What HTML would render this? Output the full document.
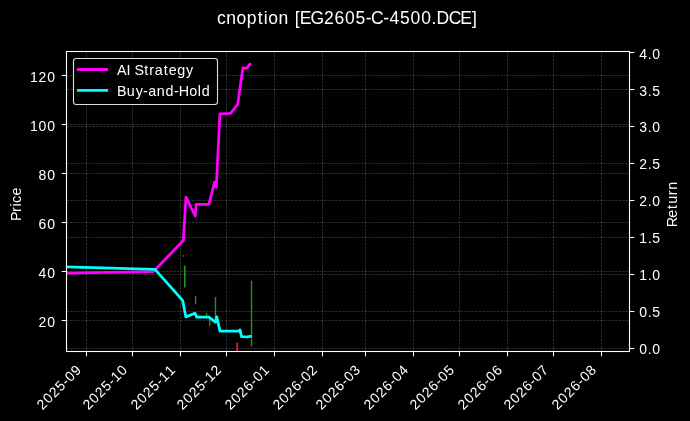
<!DOCTYPE html><html><head><meta charset="utf-8"><style>html,body{margin:0;padding:0;background:#000;width:690px;height:421px;overflow:hidden}svg{display:block;will-change:transform}text{font-family:"Liberation Sans",sans-serif;fill:#fff}</style></head><body>
<svg width="690" height="421" viewBox="0 0 690 421">
<rect width="690" height="421" fill="#000"/>
<text x="216.95 226.25 236.55 246.85 257.78 263.80 268.24 278.54 288.84 294.70 299.74 310.40 324.01 334.53 345.05 355.57 365.77 371.12 383.28 389.58 400.10 410.62 421.14 431.46 436.57 448.71 460.19 472.05" y="23.80" font-size="17.5">cnoption [EG2605-C-4500.DCE]</text>
<defs><clipPath id="ax"><rect x="66.50" y="51.50" width="563.00" height="300.00"/></clipPath></defs>
<g stroke="#fff" stroke-opacity="0.25" stroke-width="0.69" stroke-dasharray="2.57 1.11"><line x1="86.5" y1="51.5" x2="86.5" y2="351.5"/><line x1="132.5" y1="51.5" x2="132.5" y2="351.5"/><line x1="180.5" y1="51.5" x2="180.5" y2="351.5"/><line x1="226.5" y1="51.5" x2="226.5" y2="351.5"/><line x1="274.5" y1="51.5" x2="274.5" y2="351.5"/><line x1="322.5" y1="51.5" x2="322.5" y2="351.5"/><line x1="365.5" y1="51.5" x2="365.5" y2="351.5"/><line x1="413.5" y1="51.5" x2="413.5" y2="351.5"/><line x1="459.5" y1="51.5" x2="459.5" y2="351.5"/><line x1="507.5" y1="51.5" x2="507.5" y2="351.5"/><line x1="553.5" y1="51.5" x2="553.5" y2="351.5"/><line x1="601.5" y1="51.5" x2="601.5" y2="351.5"/><line x1="66.5" y1="320.5" x2="629.5" y2="320.5"/><line x1="66.5" y1="271.5" x2="629.5" y2="271.5"/><line x1="66.5" y1="222.5" x2="629.5" y2="222.5"/><line x1="66.5" y1="173.5" x2="629.5" y2="173.5"/><line x1="66.5" y1="124.5" x2="629.5" y2="124.5"/><line x1="66.5" y1="75.5" x2="629.5" y2="75.5"/><line x1="66.5" y1="348.5" x2="629.5" y2="348.5"/><line x1="66.5" y1="311.5" x2="629.5" y2="311.5"/><line x1="66.5" y1="274.5" x2="629.5" y2="274.5"/><line x1="66.5" y1="237.5" x2="629.5" y2="237.5"/><line x1="66.5" y1="200.5" x2="629.5" y2="200.5"/><line x1="66.5" y1="163.5" x2="629.5" y2="163.5"/><line x1="66.5" y1="126.5" x2="629.5" y2="126.5"/><line x1="66.5" y1="89.5" x2="629.5" y2="89.5"/></g>
<rect x="182.80" y="255" width="1.0" height="2.00" fill="#2a7a2a"/>
<rect x="183.95" y="265.7" width="1.7" height="21.80" fill="#1f961f"/>
<rect x="194.90" y="296.0" width="1.4" height="7.80" fill="#1f961f"/>
<rect x="205.80" y="312.9" width="1.4" height="3.60" fill="#1f961f"/>
<rect x="209.00" y="317" width="1.4" height="8.80" fill="#1f961f"/>
<rect x="214.80" y="297.0" width="1.4" height="21.00" fill="#1f961f"/>
<rect x="236.25" y="342.6" width="1.9" height="8.40" fill="#d81830"/>
<rect x="250.80" y="280.7" width="1.4" height="65.60" fill="#1f961f"/>
<g clip-path="url(#ax)" fill="none" stroke-width="2.78" stroke-linejoin="round" stroke-linecap="butt"><polyline points="40.00,273.60 153.40,271.60 183.30,240.50 186.00,197.20 195.20,216.00 196.20,204.30 208.90,204.30 214.60,182.00 216.30,187.30 219.90,113.80 230.50,113.30 237.70,104.30 242.90,67.80 247.00,68.10 249.20,64.80 251.30,63.80" stroke="#ff00ff"/>
<polyline points="40.00,266.30 155.00,269.30 182.60,300.30 185.90,316.90 195.00,313.20 196.70,317.10 208.90,317.10 215.40,322.10 216.70,316.80 220.00,331.10 238.60,331.10 240.00,329.90 241.50,336.70 247.60,336.90 251.70,336.00" stroke="#00ffff"/></g>
<rect x="66.5" y="51.5" width="563.00" height="300.00" fill="none" stroke="#fff" stroke-width="1.1"/>
<g stroke="#fff" stroke-width="1.1"><line x1="86.5" y1="351.5" x2="86.5" y2="356.36"/><line x1="132.5" y1="351.5" x2="132.5" y2="356.36"/><line x1="180.5" y1="351.5" x2="180.5" y2="356.36"/><line x1="226.5" y1="351.5" x2="226.5" y2="356.36"/><line x1="274.5" y1="351.5" x2="274.5" y2="356.36"/><line x1="322.5" y1="351.5" x2="322.5" y2="356.36"/><line x1="365.5" y1="351.5" x2="365.5" y2="356.36"/><line x1="413.5" y1="351.5" x2="413.5" y2="356.36"/><line x1="459.5" y1="351.5" x2="459.5" y2="356.36"/><line x1="507.5" y1="351.5" x2="507.5" y2="356.36"/><line x1="553.5" y1="351.5" x2="553.5" y2="356.36"/><line x1="601.5" y1="351.5" x2="601.5" y2="356.36"/><line x1="61.64" y1="320.5" x2="66.5" y2="320.5"/><line x1="61.64" y1="271.5" x2="66.5" y2="271.5"/><line x1="61.64" y1="222.5" x2="66.5" y2="222.5"/><line x1="61.64" y1="173.5" x2="66.5" y2="173.5"/><line x1="61.64" y1="124.5" x2="66.5" y2="124.5"/><line x1="61.64" y1="75.5" x2="66.5" y2="75.5"/><line x1="629.5" y1="348.5" x2="634.36" y2="348.5"/><line x1="629.5" y1="311.5" x2="634.36" y2="311.5"/><line x1="629.5" y1="274.5" x2="634.36" y2="274.5"/><line x1="629.5" y1="237.5" x2="634.36" y2="237.5"/><line x1="629.5" y1="200.5" x2="634.36" y2="200.5"/><line x1="629.5" y1="163.5" x2="634.36" y2="163.5"/><line x1="629.5" y1="126.5" x2="634.36" y2="126.5"/><line x1="629.5" y1="89.5" x2="634.36" y2="89.5"/><line x1="629.5" y1="52.5" x2="634.36" y2="52.5"/></g>
<text x="38.59 47.16" y="326.70" font-size="14.0">20</text>
<text x="38.59 47.16" y="277.70" font-size="14.0">40</text>
<text x="38.59 47.16" y="228.70" font-size="14.0">60</text>
<text x="38.59 47.16" y="179.70" font-size="14.0">80</text>
<text x="30.03 38.59 47.16" y="130.70" font-size="14.0">100</text>
<text x="30.03 38.59 47.16" y="81.70" font-size="14.0">120</text>
<text x="639.29 647.66 652.13" y="354.00" font-size="14.0">0.0</text>
<text x="639.29 647.66 652.13" y="317.30" font-size="14.0">0.5</text>
<text x="639.29 647.66 652.13" y="280.20" font-size="14.0">1.0</text>
<text x="639.29 647.66 652.13" y="243.20" font-size="14.0">1.5</text>
<text x="639.29 647.66 652.13" y="206.00" font-size="14.0">2.0</text>
<text x="639.29 647.66 652.13" y="169.20" font-size="14.0">2.5</text>
<text x="639.29 647.66 652.13" y="131.80" font-size="14.0">3.0</text>
<text x="639.29 647.66 652.13" y="95.50" font-size="14.0">3.5</text>
<text x="639.29 647.66 652.13" y="58.80" font-size="14.0">4.0</text>
<text transform="translate(82.30,370.60) rotate(-45)" x="-56.38 -47.73 -39.08 -30.43 -22.09 -16.87 -8.22" y="0.00" font-size="14.0">2025-09</text>
<text transform="translate(128.30,370.60) rotate(-45)" x="-56.38 -47.73 -39.08 -30.43 -22.09 -16.87 -8.22" y="0.00" font-size="14.0">2025-10</text>
<text transform="translate(176.30,370.60) rotate(-45)" x="-56.38 -47.73 -39.08 -30.43 -22.09 -16.87 -8.22" y="0.00" font-size="14.0">2025-11</text>
<text transform="translate(222.30,370.60) rotate(-45)" x="-56.38 -47.73 -39.08 -30.43 -22.09 -16.87 -8.22" y="0.00" font-size="14.0">2025-12</text>
<text transform="translate(270.30,370.60) rotate(-45)" x="-56.38 -47.73 -39.08 -30.43 -22.09 -16.87 -8.22" y="0.00" font-size="14.0">2026-01</text>
<text transform="translate(318.30,370.60) rotate(-45)" x="-56.38 -47.73 -39.08 -30.43 -22.09 -16.87 -8.22" y="0.00" font-size="14.0">2026-02</text>
<text transform="translate(361.30,370.60) rotate(-45)" x="-56.38 -47.73 -39.08 -30.43 -22.09 -16.87 -8.22" y="0.00" font-size="14.0">2026-03</text>
<text transform="translate(409.30,370.60) rotate(-45)" x="-56.38 -47.73 -39.08 -30.43 -22.09 -16.87 -8.22" y="0.00" font-size="14.0">2026-04</text>
<text transform="translate(455.30,370.60) rotate(-45)" x="-56.38 -47.73 -39.08 -30.43 -22.09 -16.87 -8.22" y="0.00" font-size="14.0">2026-05</text>
<text transform="translate(503.30,370.60) rotate(-45)" x="-56.38 -47.73 -39.08 -30.43 -22.09 -16.87 -8.22" y="0.00" font-size="14.0">2026-06</text>
<text transform="translate(549.30,370.60) rotate(-45)" x="-56.38 -47.73 -39.08 -30.43 -22.09 -16.87 -8.22" y="0.00" font-size="14.0">2026-07</text>
<text transform="translate(597.30,370.60) rotate(-45)" x="-56.38 -47.73 -39.08 -30.43 -22.09 -16.87 -8.22" y="0.00" font-size="14.0">2026-08</text>
<text transform="translate(21.10,220.30) rotate(-90)" x="-0.69 8.27 13.69 17.28 24.72" y="0.00" font-size="14.3">Price</text>
<text transform="translate(676.80,226.90) rotate(-90)" x="-0.39 9.14 18.01 23.04 31.78 37.09" y="0.00" font-size="14.3">Return</text>
<rect x="73.5" y="58.5" width="144" height="46" rx="2.78" ry="2.78" fill="#000" fill-opacity="0.92" stroke="#dcdcdc" stroke-width="1.1"/>
<line x1="76.9" y1="69.5" x2="108.1" y2="69.5" stroke="#ff00ff" stroke-width="2.78"/>
<line x1="76.9" y1="90.4" x2="108.1" y2="90.4" stroke="#00ffff" stroke-width="2.78"/>
<text x="116.95 126.44 130.65 134.42 144.25 149.37 154.81 163.70 168.63 177.22 186.04" y="74.90" font-size="14.3">AI Strategy</text>
<text x="116.96 126.81 135.63 143.12 148.21 156.78 165.49 173.92 178.79 189.34 197.83 201.71" y="95.80" font-size="14.3">Buy-and-Hold</text>
</svg></body></html>
